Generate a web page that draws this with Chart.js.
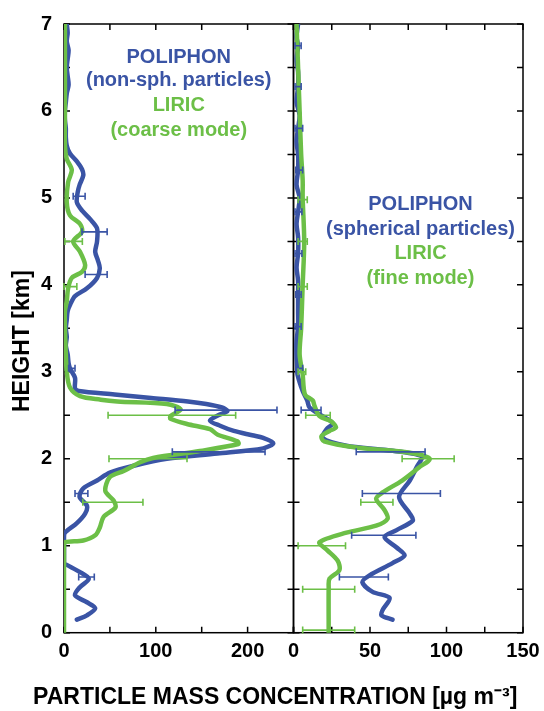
<!DOCTYPE html>
<html><head><meta charset="utf-8">
<script src="https://cdn.jsdelivr.net/npm/chart.js@4/dist/chart.umd.min.js"></script>
<style>html,body{margin:0;padding:0;background:#fff}#wrap{position:relative;width:544px;height:711px}</style>
</head><body><div id="wrap"><canvas id="c" width="544" height="711"></canvas></div>
<script>
// ---- Data (height in km, concentration in µg m-3) ----
const heightTickLabels = ['0','1','2','3','4','5','6','7'];
const leftTickLabels = ['0','100','200'];
const rightTickLabels = ['0','50','100','150'];

// POLIPHON non-spherical particles (left panel)
const nsHeights = [7.0,6.9,6.8,6.7,6.6,6.5,6.4,6.3,6.2,6.1,6.0,5.9,5.8,5.7,5.6,5.51,5.42,5.33,5.26,5.15,5.07,4.95,4.85,4.75,4.65,4.5,4.38,4.28,4.19,4.08,3.96,3.87,3.78,3.7,3.6,3.5,3.4,3.3,3.2,3.1,3.04,2.93,2.81,2.78,2.74,2.70,2.66,2.63,2.59,2.55,2.5,2.44,2.38,2.32,2.27,2.24,2.18,2.12,2.06,2.0,1.92,1.84,1.75,1.66,1.56,1.46,1.37,1.26,1.15,1.1,0.8,0.78,0.70,0.62,0.52,0.43,0.35,0.28,0.2,0.15];
const nsValues  = [3,4,3,5,4,3,4,5,3,2,1,1,2,2,3,6.5,14,19.6,21,17,15,14,20,29,36,36,34,37,39,36,25,12,7,4,3,2,3,2,4,5,6.5,12,12,16,55,95,135,155,172,178,168,159,170,185,205,217,228,217,167,112,76,50,36,21,17,25,23,14,1,0,0,3,17,27,17,12,25,34,25,14];

// LIRIC coarse mode (left panel)
const cmHeights = [7.0,6.5,6.0,5.6,5.45,5.32,5.18,4.95,4.8,4.7,4.61,4.5,4.38,4.23,4.15,4.08,3.96,3.81,3.7,3.5,3.2,3.0,2.82,2.72,2.68,2.66,2.63,2.57,2.49,2.46,2.4,2.34,2.28,2.2,2.17,2.09,2.01,1.96,1.86,1.79,1.63,1.52,1.44,1.33,1.21,1.12,1.06,1.04,1.0,0.0];
const cmValues  = [1,1,1,1,3,8.5,4.5,3,6.5,17.5,19.6,10,17.5,23,19.6,8.5,4.5,3,1,1,2,3,6.5,17.5,40,58,112,127,116,116,134,159,167,189,190,148,97,83,65,50,45,54,56,43,39,34,21,1,0,0];

// POLIPHON spherical particles (right panel)
const spHeights = [7.0,6.85,6.75,6.6,6.45,6.28,6.1,5.95,5.8,5.65,5.5,5.32,5.15,5.0,4.84,4.7,4.55,4.36,4.2,4.05,3.89,3.7,3.52,3.35,3.2,3.05,2.97,2.78,2.67,2.59,2.49,2.41,2.34,2.24,2.15,2.1,2.03,1.9,1.75,1.56,1.37,1.29,1.18,1.1,0.98,0.89,0.8,0.66,0.58,0.47,0.4,0.26,0.2,0.15];
const spValues  = [3,2,3,2,3,3,2,4,3,2,3,3,2,4,3,2,3,3,2,3,3,3,3,2,2,2.5,2.6,6,9,10.5,19,25.5,21.6,19,34.6,60.8,83.7,80.4,76,69,76,78,67.4,59.5,67.4,72.6,64.7,49.7,45,51.7,62.8,58.2,57.5,64.7];

// LIRIC fine mode (right panel)
const fmHeights = [7.0,6.5,6.0,5.5,5.2,5.0,4.5,4.0,3.5,3.2,2.97,2.74,2.67,2.61,2.49,2.43,2.36,2.32,2.26,2.2,2.13,2.07,2.0,1.9,1.75,1.61,1.54,1.41,1.31,1.23,1.15,1.04,0.95,0.83,0.72,0.62,0.52,0.0];
const fmValues  = [2,3,4,5,6,6,7,6,5,4,6,7.5,12.6,13.7,17,24.6,27.8,23.5,18.3,20,41,76,89,82,71,58,54,59.5,61.5,54,34.6,17,22,28.8,30,23.5,23,23];

// Error bars: heights, lower and upper bounds
const nsErrH  = [5.02,4.61,4.12,3.04,2.56,2.08,1.6,0.64];
const nsErrLo = [10,19.6,23,5,121,118,12,16];
const nsErrHi = [23,47,47,12,232,219,26,33];
const cmErrH  = [4.5,3.98,2.5,2.0,1.5];
const cmErrLo = [1,0,48,49,20.5];
const cmErrHi = [20,14,187,134,86];
const spErrH  = [6.75,6.28,5.8,5.32,4.84,4.36,3.89,3.52,3.04,2.56,2.08,1.6,1.12,0.64];
const spErrLo = [1,1,1,1.5,1,1,1.5,1,1.5,5,41,45,38,30];
const spErrHi = [5,5,6,6,5.5,5.5,5,5,6,18,86,96,80,62];
const fmErrH  = [4.98,4.5,3.98,3.0,2.5,2.0,1.5,1.0,0.5,0.03];
const fmErrLo = [3,3,3,3,8,71,44,3,6,6];
const fmErrHi = [9,9,9,8,24,105,65,34,40,40];

const BLUE = '#3a54a5';
const GREEN = '#6cbf47';
const FONT = 'Liberation Sans, Arial, sans-serif';

const pts = (hs, vs) => hs.map((h, i) => ({x: vs[i], y: h}));

const errSets = [
  {axis:'x1', color: BLUE, h: nsErrH, lo: nsErrLo, hi: nsErrHi},
  {axis:'x1', color: GREEN, h: cmErrH, lo: cmErrLo, hi: cmErrHi},
  {axis:'x2', color: BLUE, h: spErrH, lo: spErrLo, hi: spErrHi},
  {axis:'x2', color: GREEN, h: fmErrH, lo: fmErrLo, hi: fmErrHi}
];

const panelTexts = [
  {axis:'x1', x:125, y:6.62, text:'POLIPHON', color:BLUE},
  {axis:'x1', x:125, y:6.35, text:'(non-sph. particles)', color:BLUE},
  {axis:'x1', x:125, y:6.06, text:'LIRIC', color:GREEN},
  {axis:'x1', x:125, y:5.77, text:'(coarse mode)', color:GREEN},
  {axis:'x2', x:83, y:4.92, text:'POLIPHON', color:BLUE},
  {axis:'x2', x:83, y:4.64, text:'(spherical particles)', color:BLUE},
  {axis:'x2', x:83, y:4.36, text:'LIRIC', color:GREEN},
  {axis:'x2', x:83, y:4.07, text:'(fine mode)', color:GREEN}
];

const framePlugin = {
  id: 'frame',
  beforeDatasetsDraw(chart) {
    const ctx = chart.ctx, y = chart.scales.y;
    ctx.save();
    ctx.strokeStyle = '#000';
    ctx.lineWidth = 1.5;
    const L = 6;
    ['x1','x2'].forEach(id => {
      const s = chart.scales[id];
      ctx.strokeRect(s.left, y.top, s.right - s.left, y.bottom - y.top);
      ctx.beginPath();
      s.ticks.forEach(t => {
        const px = s.getPixelForValue(t.value);
        ctx.moveTo(px, y.bottom); ctx.lineTo(px, y.bottom - L);
        ctx.moveTo(px, y.top); ctx.lineTo(px, y.top + L);
      });
      y.ticks.forEach(t => {
        const py = y.getPixelForValue(t.value);
        ctx.moveTo(s.left, py); ctx.lineTo(s.left + L, py);
        ctx.moveTo(s.right, py); ctx.lineTo(s.right - L, py);
      });
      ctx.stroke();
    });
    ctx.restore();
  }
};

const errPlugin = {
  id: 'errbars',
  afterDatasetsDraw(chart) {
    const ctx = chart.ctx, ys = chart.scales.y;
    ctx.save();
    ctx.lineWidth = 1.6;
    errSets.forEach(e => {
      const xs = chart.scales[e.axis];
      ctx.strokeStyle = e.color;
      ctx.beginPath();
      e.h.forEach((h, i) => {
        const py = ys.getPixelForValue(h);
        const a = xs.getPixelForValue(e.lo[i]);
        const b = xs.getPixelForValue(e.hi[i]);
        ctx.moveTo(a, py); ctx.lineTo(b, py);
        ctx.moveTo(a, py - 3.5); ctx.lineTo(a, py + 3.5);
        ctx.moveTo(b, py - 3.5); ctx.lineTo(b, py + 3.5);
      });
      ctx.stroke();
    });
    ctx.restore();
  }
};

const textPlugin = {
  id: 'paneltext',
  afterDraw(chart) {
    const ctx = chart.ctx, ys = chart.scales.y;
    ctx.save();
    ctx.font = 'bold 20px ' + FONT;
    ctx.textAlign = 'center';
    ctx.textBaseline = 'middle';
    panelTexts.forEach(t => {
      ctx.fillStyle = t.color;
      ctx.fillText(t.text, chart.scales[t.axis].getPixelForValue(t.x), ys.getPixelForValue(t.y));
    });
    ctx.restore();
  }
};

const lineDs = (label, data, color, axis, order) => ({
  label, data, xAxisID: axis, yAxisID: 'y',
  borderColor: color, backgroundColor: color, borderWidth: 4.5,
  pointRadius: 0, showLine: true, tension: 0.3, fill: false, order,
  borderJoinStyle: 'round', borderCapStyle: 'round'
});

const tickFont = {family: FONT, size: 20, weight: 'bold'};

new Chart(document.getElementById('c'), {
  type: 'scatter',
  data: {
    datasets: [
      lineDs('LIRIC (coarse mode)', pts(cmHeights, cmValues), GREEN, 'x1', 0),
      lineDs('POLIPHON (non-sph. particles)', pts(nsHeights, nsValues), BLUE, 'x1', 1),
      lineDs('LIRIC (fine mode)', pts(fmHeights, fmValues), GREEN, 'x2', 0),
      lineDs('POLIPHON (spherical particles)', pts(spHeights, spValues), BLUE, 'x2', 1)
    ]
  },
  options: {
    responsive: false,
    animation: false,
    devicePixelRatio: 1,
    layout: {padding: {left: 0, right: 0, top: 21, bottom: 0}},
    plugins: {
      legend: {display: false},
      tooltip: {enabled: false},
      title: {
        display: true, position: 'bottom',
        text: ' PARTICLE MASS CONCENTRATION [µg m⁻³]',
        color: '#000',
        font: {family: FONT, size: 23, weight: 'bold'},
        padding: {top: 0, bottom: 0}
      }
    },
    scales: {
      y: {
        type: 'linear', position: 'left', min: 0, max: 7,
        grid: {display: false, drawTicks: false},
        border: {display: false},
        ticks: {
          stepSize: 0.5, color: '#000', font: tickFont, padding: 12,
          callback: v => Number.isInteger(v) ? heightTickLabels[v] : ''
        },
        title: {
          display: true, text: 'HEIGHT [km]    ', color: '#000',
          font: {family: FONT, size: 23, weight: 'bold'},
          padding: {top: 9, bottom: 0}
        },
        afterFit: s => { s.width = 64; }
      },
      x1: {
        type: 'linear', position: 'bottom', stack: 'panels', stackWeight: 1,
        min: 0, max: 250,
        grid: {display: false, drawTicks: false},
        border: {display: false},
        ticks: {
          stepSize: 50, autoSkip: false, maxRotation: 0, color: '#000', font: tickFont, padding: 7,
          callback: v => (v % 100 === 0 && v <= 200) ? leftTickLabels[v / 100] : ''
        },
        afterFit: s => { s.height = 50.7; }
      },
      x2: {
        type: 'linear', position: 'bottom', stack: 'panels', stackWeight: 1,
        min: 0, max: 150,
        grid: {display: false, drawTicks: false},
        border: {display: false},
        ticks: {
          stepSize: 25, autoSkip: false, maxRotation: 0, color: '#000', font: tickFont, padding: 7,
          callback: v => (v % 50 === 0) ? rightTickLabels[v / 50] : ''
        },
        afterFit: s => { s.height = 50.7; s.paddingRight = 21; }
      }
    }
  },
  plugins: [framePlugin, errPlugin, textPlugin]
});
</script>
</body></html>
